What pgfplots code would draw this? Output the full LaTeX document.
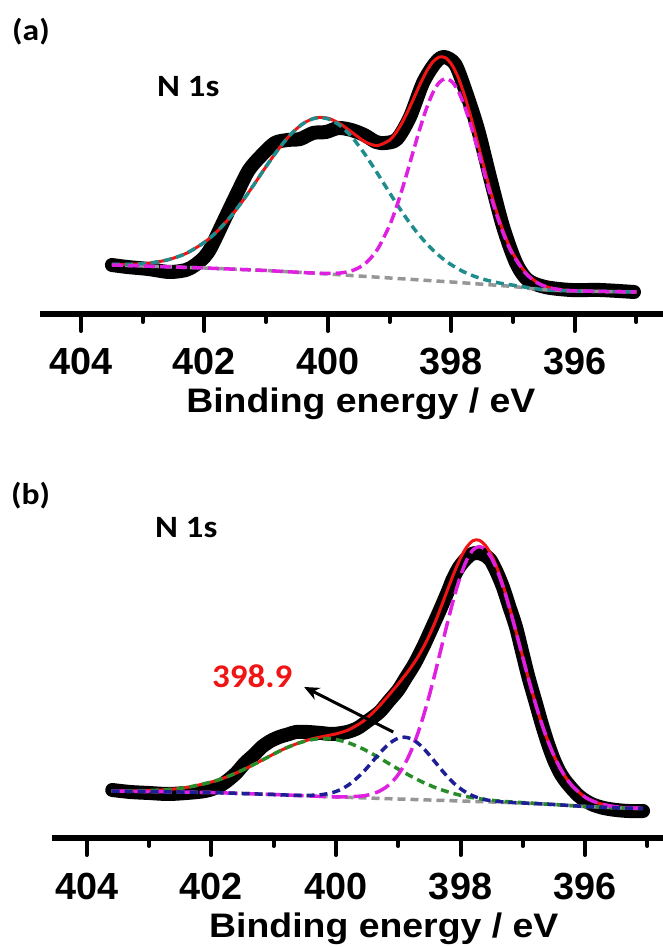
\documentclass[border=0pt]{standalone}
\usepackage{fontspec}
\setmainfont{Liberation Sans}
\newfontfamily\calib{Carlito}
\usepackage{graphicx}
\usepackage{pgfplots}
\pgfplotsset{compat=1.18}
\usepackage{pgfplotstable}
\usetikzlibrary{arrows.meta}

\definecolor{tealc}{RGB}{32,140,140}
\definecolor{magc}{RGB}{224,32,224}
\definecolor{grayc}{RGB}{150,150,150}
\definecolor{greenc}{RGB}{40,140,40}
\definecolor{bluec}{RGB}{30,30,150}
\definecolor{redc}{RGB}{240,20,20}

\newcommand{\tickfont}{\fontsize{37.8}{40}\selectfont\bfseries}
\newcommand{\labfont}{\fontsize{34}{36}\selectfont\bfseries}

% ---------- panel (a) ----------
\pgfplotstableread{
x y
403.50 49
403.25 47
402.91 45
402.57 42
402.30 44
402.15 49
402.00 57
401.89 67
401.68 94
401.47 121
401.28 144
401.07 159
400.86 171
400.65 174
400.45 175
400.24 181
400.03 182
399.83 186
399.62 184
399.41 179
399.22 172
399.07 171
398.88 175
398.67 197
398.46 231
398.26 251
398.12 257
397.94 250
397.78 225
397.57 185
397.37 136
397.16 87
396.95 51
396.76 34
396.48 27
396.06 24
395.59 24
395.04 22
}\dataA

\pgfplotstableread{
x bg teal mag fit
403.5 49 49.5 49 49.5
403.2 48.4 49.7 48.4 49.7
402.9 47.8 50.9 47.8 50.9
402.6 47.2 54.1 47.2 54.1
402.3 46.6 60.5 46.6 60.5
402.0 46 71.7 46 71.7
401.8 45.5 82.3 45.5 82.3
401.6 45 95.6 45 95.6
401.4 44.5 111.5 44.5 111.5
401.2 44 129.2 44 129.2
401.0 43.5 147.6 43.5 147.6
400.8 42.8 164.9 42.8 164.9
400.6 42.1 179.8 42.1 179.8
400.4 41.4 190.5 41.4 190.5
400.2 40.7 195.9 40.9 196.1
400.0 40 195.2 40.6 195.8
399.8 39.2 188.3 41.0 190.1
399.6 38.4 176.1 43.5 181.2
399.4 37.6 159.7 50.2 172.3
399.2 36.8 140.9 64.3 168.4
399.0 36 121.2 88.7 173.9
398.9 35.6 111.5 105.1 181.0
398.8 35.2 102.2 124.0 191.0
398.7 34.8 93.3 144.8 203.3
398.6 34.4 85.0 166.3 216.9
398.5 34 77.4 187.2 230.6
398.4 33.6 70.4 206.0 242.8
398.3 33.2 64.1 221.1 252.0
398.2 32.8 58.5 231.2 256.9
398.1 32.4 53.5 235.3 256.4
398.0 32 49.2 232.9 250.1
397.9 31.6 45.5 224.4 238.3
397.8 31.1 42.2 210.2 221.3
397.7 30.7 39.5 192.0 200.8
397.6 30.2 37.1 170.8 177.7
397.5 29.8 35.1 148.5 153.8
397.4 29.3 33.4 126.4 130.5
397.3 28.9 32.0 105.9 109.0
397.2 28.4 30.7 87.5 89.8
397.1 28.0 29.7 71.9 73.6
397.0 27.5 28.8 59.1 60.4
396.8 26.1 26.8 41.0 41.7
396.6 24.7 25.0 30.9 31.2
396.4 23.8 23.8 26.1 26.1
396.2 23.4 23.4 24.1 24.1
396.0 23 23 23.2 23.2
395.6 22.6 22.6 22.6 22.6
395.2 22.2 22.2 22.2 22.2
395.0 22 22 22 22
}\fitA

% ---------- panel (b) ----------
\pgfplotstableread{
x y
403.59 48
403.30 46
403.00 45
402.70 44
402.40 45
402.10 47
401.90 51
401.75 57
401.60 65
401.46 75
401.30 84
401.19 91
401.05 97
400.91 101
400.75 104
400.64 106
400.45 106
400.24 105
400.05 104
399.82 106
399.65 110
399.49 117
399.30 126
399.15 137
399.00 148
398.88 160
398.74 174
398.60 191
398.46 210
398.33 228
398.20 247
398.13 258
398.03 270
397.93 278
397.82 284
397.72 285
397.62 283
397.52 278
397.42 266
397.32 251
397.22 232
397.11 211
397.01 186
396.91 161
396.80 137
396.70 115
396.60 95
396.50 78
396.40 65
396.29 55
396.10 42
395.90 34
395.70 30
395.50 28
395.30 27
395.07 27
}\dataB

\pgfplotstableread{
x bg green blue mag fit
403.6 47.0 47.2 47.0 47.0 47.2
403.2 46.6 47.2 46.6 46.6 47.2
402.8 46.3 48.0 46.3 46.3 48.0
402.4 45.9 50.5 45.9 45.9 50.5
402.0 45.5 56.0 45.5 45.5 56.0
401.8 45.1 60.0 45.1 45.1 60.0
401.6 44.7 65.0 44.7 44.7 65.0
401.4 44.3 70.9 44.3 44.3 70.9
401.2 43.9 77.3 43.9 43.9 77.3
401.0 43.5 83.9 43.5 43.5 83.9
400.8 43.0 90.0 43.0 43.0 90.0
400.6 42.5 94.9 42.6 42.5 94.9
400.4 42.0 98.2 42.7 42.0 98.9
400.2 41.5 99.5 43.6 41.5 101.6
400.0 41.0 98.4 46.5 41.2 104.1
399.8 40.6 95.2 52.9 41.2 108.1
399.6 40.2 90.1 63.5 41.9 115.1
399.5 40.0 87.0 70.2 42.8 120.0
399.4 39.8 83.6 77.4 44.4 125.8
399.3 39.6 80.0 84.6 46.9 132.3
399.2 39.4 76.3 91.2 50.6 139.3
399.1 39.2 72.6 96.4 56.0 146.6
399.0 39.0 68.9 99.8 63.4 154.1
398.9 38.8 65.4 100.8 73.3 161.9
398.8 38.6 61.9 99.4 86.1 170.2
398.7 38.4 58.7 95.6 102.0 179.5
398.6 38.2 55.6 90.0 121.0 190.2
398.5 38.0 52.9 83.0 142.8 202.7
398.4 37.8 50.3 75.4 166.9 217.0
398.3 37.6 48.1 67.8 192.3 233.0
398.2 37.4 46.1 60.7 217.6 249.6
398.1 37.2 44.3 54.4 241.4 265.7
398.0 37.0 42.7 49.3 262.0 280.0
397.9 36.8 41.4 45.2 278.0 291.0
397.8 36.6 40.3 42.1 288.1 297.3
397.7 36.4 39.3 39.9 291.4 297.8
397.6 36.2 38.4 38.3 288.3 292.6
397.5 36.0 37.7 37.2 279.6 282.5
397.4 35.8 37.1 36.5 265.8 267.8
397.3 35.6 36.6 36.0 247.8 249.2
397.2 35.4 36.1 35.6 226.8 227.7
397.1 35.2 35.7 35.2 203.9 204.4
397.0 35.0 35.4 35.0 180.3 180.7
396.9 34.7 35.0 34.7 157.0 157.3
396.8 34.4 34.6 34.4 135.0 135.2
396.7 34.1 34.1 34.1 115.0 115.0
396.6 33.8 33.8 33.8 97.4 97.4
396.5 33.5 33.5 33.5 82.3 82.3
396.4 33.1 33.1 33.1 69.7 69.7
396.3 32.7 32.7 32.7 59.6 59.6
396.2 32.3 32.3 32.3 51.6 51.6
396.0 31.5 31.5 31.5 40.8 40.8
395.8 31.0 31.0 31.0 35.1 35.1
395.6 30.5 30.5 30.5 32.1 32.1
395.4 30.0 30.0 30.0 30.6 30.6
395.07 29.5 29.5 29.5 29.6 29.6
}\fitB

\pgfplotsset{
  xpsaxis/.style={
    scale only axis, clip=false,
    x dir=reverse,
    axis x line*=bottom, axis y line=none,
    x axis line style={-, line width=6pt},
    ymin=0, ymax=300, height=300pt,
    xtick={404,402,400,398,396},
    xticklabels={404,402,400,398,396},
    minor xtick={403,401,399,397,395},
    tick align=outside,
    major tick length=17pt, minor tick length=8pt,
    tick style={line width=4pt, black, line cap=round},
    xticklabel style={font=\tickfont, anchor=base, inner sep=0pt, yshift=-44pt},
  },
  datastyle/.style={black, line width=14pt, line cap=round, line join=round, smooth},
  fitstyle/.style={redc, line width=3pt, smooth},
  dsh/.style={line width=3.5pt, smooth, dash pattern=on 8pt off 5pt},
}

\begin{document}
\begin{tikzpicture}

% panel (a)
\begin{axis}[xpsaxis, at={(40pt,633pt)}, anchor=south west, width=623pt,
  xmin=394.57, xmax=404.665]
\addplot[datastyle] table[x=x,y=y]{\dataA};
\addplot[fitstyle] table[x=x,y=fit]{\fitA};
\addplot[dsh, grayc] table[x=x,y=bg]{\fitA};
\addplot[dsh, tealc] table[x=x,y=teal]{\fitA};
\addplot[dsh, magc, dash pattern=on 11pt off 5pt] table[x=x,y=mag]{\fitA};
\node[font=\labfont, anchor=base, inner sep=0pt] at (axis description cs:0.515,-0.33)
  {\scalebox{1.1}[1]{Binding energy / eV}};
\end{axis}

% panel (b)
\begin{axis}[xpsaxis, at={(52pt,109pt)}, anchor=south west, width=611pt,
  xmin=394.75, xmax=404.557]
\addplot[datastyle] table[x=x,y=y]{\dataB};
\addplot[fitstyle] table[x=x,y=fit]{\fitB};
\addplot[dsh, grayc] table[x=x,y=bg]{\fitB};
\addplot[dsh, greenc] table[x=x,y=green]{\fitB};
\addplot[dsh, magc, dash pattern=on 16pt off 6pt] table[x=x,y=mag]{\fitB};
\addplot[dsh, bluec] table[x=x,y=blue]{\fitB};
\draw[line width=3pt, -{Stealth[length=15pt, width=13pt]}]
  (axis cs:399.08,106) -- (axis cs:400.51,151);
\node[font=\labfont, anchor=base, inner sep=0pt] at (axis description cs:0.543,-0.33)
  {\scalebox{1.1}[1]{Binding energy / eV}};
\end{axis}

% texts
\node[anchor=base west, inner sep=0pt, font=\calib\fontsize{30}{32}\selectfont\bfseries]
  at (12pt,906pt) {\scalebox{1.12}[1]{(a)}};
\node[anchor=base west, inner sep=0pt, font=\calib\fontsize{31}{33}\selectfont\bfseries]
  at (157pt,850pt) {\scalebox{1.12}[1]{N 1s}};
\node[anchor=base west, inner sep=0pt, font=\calib\fontsize{30}{32}\selectfont\bfseries]
  at (11pt,442pt) {\scalebox{1.12}[1]{(b)}};
\node[anchor=base west, inner sep=0pt, font=\calib\fontsize{31}{33}\selectfont\bfseries]
  at (155pt,409pt) {\scalebox{1.12}[1]{N 1s}};
\node[anchor=base west, inner sep=0pt, text=redc, font=\calib\fontsize{33}{35}\selectfont\bfseries]
  at (212pt,259pt) {\scalebox{1.06}[1]{398.9}};

\pgfresetboundingbox
\useasboundingbox (0pt,0pt) rectangle (663pt,947pt);
\end{tikzpicture}
\end{document}
